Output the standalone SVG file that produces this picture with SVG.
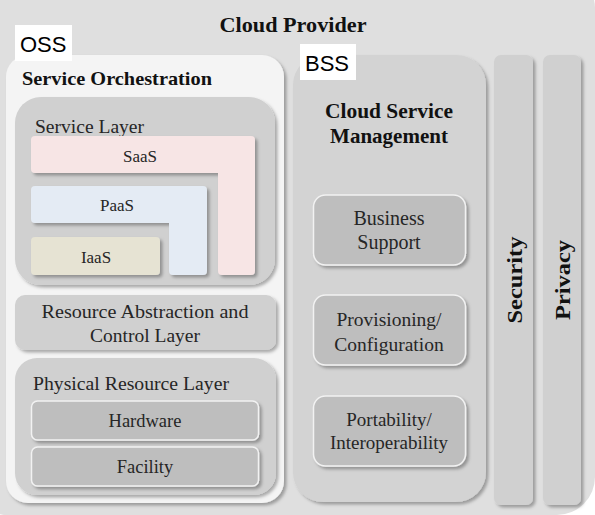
<svg xmlns="http://www.w3.org/2000/svg" width="595" height="515" viewBox="0 0 595 515">
<defs>
<filter id="sh" x="-10%" y="-10%" width="125%" height="125%">
<feDropShadow dx="2.5" dy="2.5" stdDeviation="1.8" flood-color="#000" flood-opacity="0.3"/>
</filter>
<style>
.serif{font-family:"Liberation Serif","DejaVu Serif",serif;fill:#262626}
.b{font-weight:bold;fill:#111}
.sans{font-family:"Liberation Sans",Arial,sans-serif;fill:#000}
.tag{fill:#fff}
.inner{fill:#bebebe;stroke:#f2f2f2;stroke-width:1.5}
</style>
</defs>
<rect x="-30" y="-30" width="625" height="545" rx="38" fill="#dfdfdf"/>
<text class="serif b" x="293" y="32" font-size="22" text-anchor="middle" textLength="147" lengthAdjust="spacingAndGlyphs">Cloud Provider</text>

<g id="oss">
<rect x="6" y="55" width="278" height="448" rx="22" fill="#f4f4f4" filter="url(#sh)"/>
<rect class="tag" x="15" y="25" width="57" height="36"/>
<text class="sans" x="20" y="52" font-size="22">OSS</text>
<text class="serif b" x="22" y="85" font-size="19" textLength="190" lengthAdjust="spacingAndGlyphs">Service Orchestration</text>
</g>

<g id="service-layer">
<rect x="15" y="97" width="260" height="188" rx="26" fill="#d0d0d0" filter="url(#sh)"/>
<text class="serif" x="35" y="133" font-size="19" textLength="109" lengthAdjust="spacingAndGlyphs">Service Layer</text>
</g>
<g id="saas">
<path d="M35,136 H251 a4,4 0 0 1 4,4 V271 a4,4 0 0 1 -4,4 H222 a4,4 0 0 1 -4,-4 V173 H35 a4,4 0 0 1 -4,-4 V140 a4,4 0 0 1 4,-4 Z" fill="#f7e5e5" filter="url(#sh)"/>
<text class="serif" x="140" y="162" font-size="17" text-anchor="middle">SaaS</text>
</g>
<g id="paas">
<path d="M35,186 H203 a4,4 0 0 1 4,4 V271 a4,4 0 0 1 -4,4 H173 a4,4 0 0 1 -4,-4 V223 H35 a4,4 0 0 1 -4,-4 V190 a4,4 0 0 1 4,-4 Z" fill="#e4ebf4" filter="url(#sh)"/>
<text class="serif" x="117" y="211" font-size="17" text-anchor="middle">PaaS</text>
</g>
<g id="iaas">
<rect x="31" y="237" width="129" height="38" rx="4" fill="#e6e3d3" filter="url(#sh)"/>
<text class="serif" x="96" y="263" font-size="17" text-anchor="middle">IaaS</text>
</g>

<g id="resource-abstraction">
<rect x="15" y="295" width="261" height="55" rx="10" fill="#d0d0d0" filter="url(#sh)"/>
<text class="serif" x="145" y="318" font-size="19.5" text-anchor="middle" textLength="207" lengthAdjust="spacingAndGlyphs">Resource Abstraction and</text>
<text class="serif" x="145" y="342" font-size="19.5" text-anchor="middle">Control Layer</text>
</g>

<g id="physical">
<rect x="15" y="358" width="261" height="137" rx="22" fill="#d0d0d0" filter="url(#sh)"/>
<text class="serif" x="33" y="390" font-size="19.5" textLength="196" lengthAdjust="spacingAndGlyphs">Physical Resource Layer</text>
</g>
<g id="hardware">
<rect class="inner" x="31.5" y="401" width="227" height="39" rx="6" filter="url(#sh)"/>
<text class="serif" x="145" y="427" font-size="18.5" text-anchor="middle">Hardware</text>
</g>
<g id="facility">
<rect class="inner" x="31.5" y="447" width="227" height="39" rx="6" filter="url(#sh)"/>
<text class="serif" x="145" y="473" font-size="18.5" text-anchor="middle">Facility</text>
</g>

<g id="bss">
<rect x="293" y="55" width="193" height="447" rx="30" fill="#d3d3d3" filter="url(#sh)"/>
<rect class="tag" x="300" y="44" width="56" height="36"/>
<text class="sans" x="305" y="71" font-size="22">BSS</text>
<text class="serif b" x="389" y="118" font-size="21" text-anchor="middle" textLength="128" lengthAdjust="spacingAndGlyphs">Cloud Service</text>
<text class="serif b" x="389" y="143" font-size="21" text-anchor="middle">Management</text>
</g>
<g id="business-support">
<rect class="inner" x="313.5" y="195" width="152" height="70" rx="12" filter="url(#sh)"/>
<text class="serif" x="389" y="225" font-size="20" text-anchor="middle">Business</text>
<text class="serif" x="389" y="249" font-size="20" text-anchor="middle">Support</text>
</g>
<g id="provisioning">
<rect class="inner" x="313.5" y="295" width="152" height="70" rx="12" filter="url(#sh)"/>
<text class="serif" x="389" y="326" font-size="19.5" text-anchor="middle">Provisioning/</text>
<text class="serif" x="389" y="351" font-size="19.5" text-anchor="middle">Configuration</text>
</g>
<g id="portability">
<rect class="inner" x="313.5" y="396" width="152" height="70" rx="12" filter="url(#sh)"/>
<text class="serif" x="389" y="426" font-size="19" text-anchor="middle">Portability/</text>
<text class="serif" x="389" y="449" font-size="19" text-anchor="middle">Interoperability</text>
</g>

<g id="security">
<rect x="494" y="55" width="39" height="450" rx="7" fill="#d0d0d0" filter="url(#sh)"/>
<text class="serif b" transform="translate(522,280) rotate(-90)" font-size="22" text-anchor="middle" textLength="87" lengthAdjust="spacingAndGlyphs">Security</text>
</g>
<g id="privacy">
<rect x="543" y="55" width="38" height="450" rx="7" fill="#d0d0d0" filter="url(#sh)"/>
<text class="serif b" transform="translate(570,280) rotate(-90)" font-size="22" text-anchor="middle" textLength="80" lengthAdjust="spacingAndGlyphs">Privacy</text>
</g>
<g id="connectors"/>
</svg>
